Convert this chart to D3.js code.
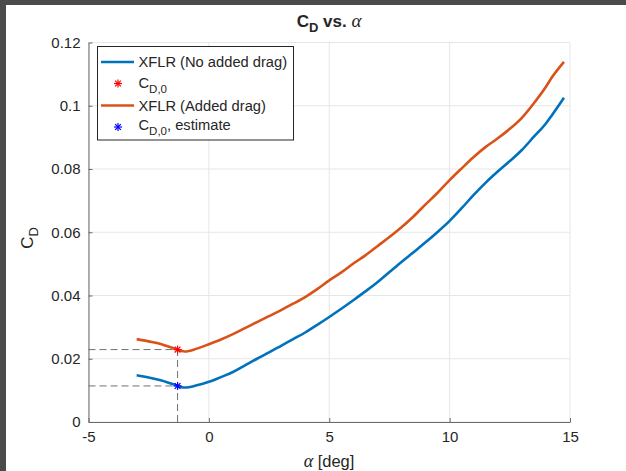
<!DOCTYPE html>
<html>
<head>
<meta charset="utf-8">
<script src="https://cdn.jsdelivr.net/npm/d3@7"></script>
<style>
  html, body { margin: 0; padding: 0; background: #fff; }
  svg { display: block; }
  text { font-family: "Liberation Sans", Arial, Helvetica, sans-serif; fill: #262626; }
  .greek { font-family: "Liberation Serif", "Times New Roman", serif; font-style: italic; }
</style>
</head>
<body>
<script>
// ---------- data ----------
const alphaNoDrag = [-3, -2.5, -2, -1.5, -1, -0.5, 0, 0.5, 1, 1.5, 2, 2.5, 3, 3.5, 4, 4.5, 5, 5.5, 6, 6.5, 7, 7.5, 8, 8.5, 9, 9.5, 10, 10.5, 11, 11.5, 12, 12.5, 13, 13.5, 14, 14.25, 14.75];
const cdNoDrag    = [0.0148, 0.0141, 0.0132, 0.0120, 0.0109, 0.0116, 0.0127, 0.0142, 0.0158, 0.0179, 0.0200, 0.0220, 0.0241, 0.0262, 0.0283, 0.0307, 0.0332, 0.0358, 0.0385, 0.0413, 0.0442, 0.0474, 0.0506, 0.0537, 0.0568, 0.0601, 0.0636, 0.0676, 0.0718, 0.0757, 0.0792, 0.0825, 0.0860, 0.0902, 0.0944, 0.0970, 0.1025];
const alphaAdded  = [-3, -2.5, -2, -1.5, -1, -0.5, 0, 0.5, 1, 1.5, 2, 2.5, 3, 3.5, 4, 4.5, 5, 5.5, 6, 6.5, 7, 7.5, 8, 8.5, 9, 9.5, 10, 10.5, 11, 11.5, 12, 12.5, 13, 13.5, 14, 14.25, 14.75];
const cdAdded     = [0.0262, 0.0255, 0.0247, 0.0234, 0.0223, 0.0232, 0.0246, 0.0261, 0.0278, 0.0297, 0.0316, 0.0335, 0.0354, 0.0374, 0.0395, 0.0420, 0.0448, 0.0473, 0.0501, 0.0527, 0.0556, 0.0585, 0.0616, 0.0650, 0.0688, 0.0725, 0.0765, 0.0802, 0.0838, 0.0870, 0.0897, 0.0927, 0.0962, 0.1008, 0.1060, 0.1090, 0.1139];
const cd0Point      = { alpha: -1.3, cd: 0.0229 };   // red asterisk
const cd0Estimate   = { alpha: -1.3, cd: 0.0114 };   // blue asterisk
const xTicks = [-5, 0, 5, 10, 15];
const xTickLabels = ["-5", "0", "5", "10", "15"];
const yTicks = [0, 0.02, 0.04, 0.06, 0.08, 0.1, 0.12];
const yTickLabels = ["0", "0.02", "0.04", "0.06", "0.08", "0.1", "0.12"];
const legendItems = [
  { type: "line", color: "#0072BD", text: "XFLR (No added drag)" },
  { type: "star", color: "#ff0000", text: "C", sub: "D,0", rest: "" },
  { type: "line", color: "#D95319", text: "XFLR (Added drag)" },
  { type: "star", color: "#0000ff", text: "C", sub: "D,0", rest: ", estimate" }
];

// ---------- layout ----------
const W = 626, H = 471;
const svg = d3.select("body").append("svg").attr("width", W).attr("height", H);
svg.append("rect").attr("width", W).attr("height", H).attr("fill", "#fff");

const x = d3.scaleLinear().domain([-5, 15]).range([88.5, 570]);
const y = d3.scaleLinear().domain([0, 0.12]).range([422, 42.5]);

// grid
const grid = svg.append("g").attr("stroke", "#e6e6e6").attr("stroke-width", 1);
xTicks.forEach(t => grid.append("line").attr("x1", x(t)).attr("x2", x(t)).attr("y1", y(0)).attr("y2", y(0.12)));
yTicks.forEach(t => grid.append("line").attr("x1", x(-5)).attr("x2", x(15)).attr("y1", y(t)).attr("y2", y(t)));

// axes (MATLAB style, ticks inside)
const axisColor = "#6a6a6a";
const xAxis = svg.append("g").attr("transform", `translate(0,${y(0)})`)
  .call(d3.axisBottom(x).tickValues(xTicks).tickFormat((d, i) => xTickLabels[i]).tickSizeInner(-4).tickSizeOuter(0).tickPadding(9));
const yAxis = svg.append("g").attr("transform", `translate(${x(-5)},0)`)
  .call(d3.axisLeft(y).tickValues(yTicks).tickFormat((d, i) => yTickLabels[i]).tickSizeInner(-4).tickSizeOuter(0).tickPadding(8));
[xAxis, yAxis].forEach(g => {
  g.select(".domain").attr("stroke", axisColor).attr("stroke-width", 1);
  g.selectAll(".tick line").attr("stroke", axisColor).attr("stroke-width", 1);
  g.selectAll(".tick text").attr("fill", "#262626").style("font-size", "15px")
    .style("font-family", "'Liberation Sans', Arial, sans-serif");
});
xAxis.selectAll(".tick text").attr("dy", "0.71em");

// dashed guide lines
const dash = svg.append("g").attr("stroke", "#707070").attr("stroke-width", 1).attr("stroke-dasharray", "7,4").attr("fill", "none");
dash.append("line").attr("x1", x(-5)).attr("x2", x(cd0Point.alpha)).attr("y1", y(cd0Point.cd)).attr("y2", y(cd0Point.cd));
dash.append("line").attr("x1", x(-5)).attr("x2", x(cd0Estimate.alpha)).attr("y1", y(cd0Estimate.cd)).attr("y2", y(cd0Estimate.cd));
dash.append("line").attr("x1", x(cd0Point.alpha)).attr("x2", x(cd0Point.alpha)).attr("y1", y(0)).attr("y2", y(cd0Point.cd));

// curves
const line = d3.line().x(d => x(d[0])).y(d => y(d[1])).curve(d3.curveMonotoneX);
svg.append("path").datum(d3.zip(alphaNoDrag, cdNoDrag)).attr("d", line)
  .attr("fill", "none").attr("stroke", "#0072BD").attr("stroke-width", 2.6).attr("stroke-linejoin", "round");
svg.append("path").datum(d3.zip(alphaAdded, cdAdded)).attr("d", line)
  .attr("fill", "none").attr("stroke", "#D95319").attr("stroke-width", 2.6).attr("stroke-linejoin", "round");

// asterisk marker
function star(g, cx, cy, color, r = 4) {
  const s = g.append("g").attr("stroke", color).attr("stroke-width", 1.2);
  s.append("line").attr("x1", cx - r).attr("x2", cx + r).attr("y1", cy).attr("y2", cy);
  s.append("line").attr("x1", cx).attr("x2", cx).attr("y1", cy - r).attr("y2", cy + r);
  const k = r * 0.72;
  s.append("line").attr("x1", cx - k).attr("x2", cx + k).attr("y1", cy - k).attr("y2", cy + k);
  s.append("line").attr("x1", cx - k).attr("x2", cx + k).attr("y1", cy + k).attr("y2", cy - k);
}
star(svg, x(cd0Point.alpha), y(cd0Point.cd), "#ff0000");
star(svg, x(cd0Estimate.alpha), y(cd0Estimate.cd), "#0000ff");

// legend
const lg = svg.append("g");
lg.append("rect").attr("x", 97.5).attr("y", 46.5).attr("width", 196).attr("height", 93.5)
  .attr("fill", "#fff").attr("stroke", "#262626").attr("stroke-width", 1);
const rowY = [62, 83.5, 105.5, 127];
const baseY = [67, 87.5, 110.5, 130];
legendItems.forEach((it, i) => {
  if (it.type === "line") {
    lg.append("line").attr("x1", 101).attr("x2", 134).attr("y1", rowY[i]).attr("y2", rowY[i])
      .attr("stroke", it.color).attr("stroke-width", 2.6);
    lg.append("text").attr("x", 138.5).attr("y", baseY[i]).style("font-size", "14.7px").text(it.text);
  } else {
    star(lg, 118, rowY[i], it.color);
    const t = lg.append("text").attr("x", 138.5).attr("y", baseY[i]).style("font-size", "14.7px");
    t.append("tspan").text(it.text);
    t.append("tspan").attr("dy", 5).style("font-size", "11.5px").text(it.sub);
    if (it.rest) t.append("tspan").attr("dy", -5).text(it.rest);
  }
});

// title
const title = svg.append("text").attr("x", 329).attr("y", 27).attr("text-anchor", "middle")
  .style("font-size", "17px").style("font-weight", "bold");
title.append("tspan").text("C");
title.append("tspan").attr("dy", 5).style("font-size", "13px").text("D");
title.append("tspan").attr("dy", -5).text(" vs. ");
title.append("tspan").attr("class", "greek").style("font-weight", "normal").style("font-size", "19px").text("α");

// x label
const xl = svg.append("text").attr("x", 329).attr("y", 467).attr("text-anchor", "middle").style("font-size", "16.5px");
xl.append("tspan").attr("class", "greek").style("font-size", "18px").text("α");
xl.append("tspan").text(" [deg]");

// y label
const yl = svg.append("text").attr("transform", "translate(33,238) rotate(-90)").attr("text-anchor", "middle").style("font-size", "17px");
yl.append("tspan").text("C");
yl.append("tspan").attr("dy", 5).style("font-size", "13px").text("D");

// dark window frame (top / left edges of screenshot)
svg.append("rect").attr("x", 0).attr("y", 0).attr("width", W).attr("height", 5).attr("fill", "#4b4b4b");
svg.append("rect").attr("x", 0).attr("y", 0).attr("width", 6).attr("height", H).attr("fill", "#4b4b4b");
</script>
</body>
</html>
